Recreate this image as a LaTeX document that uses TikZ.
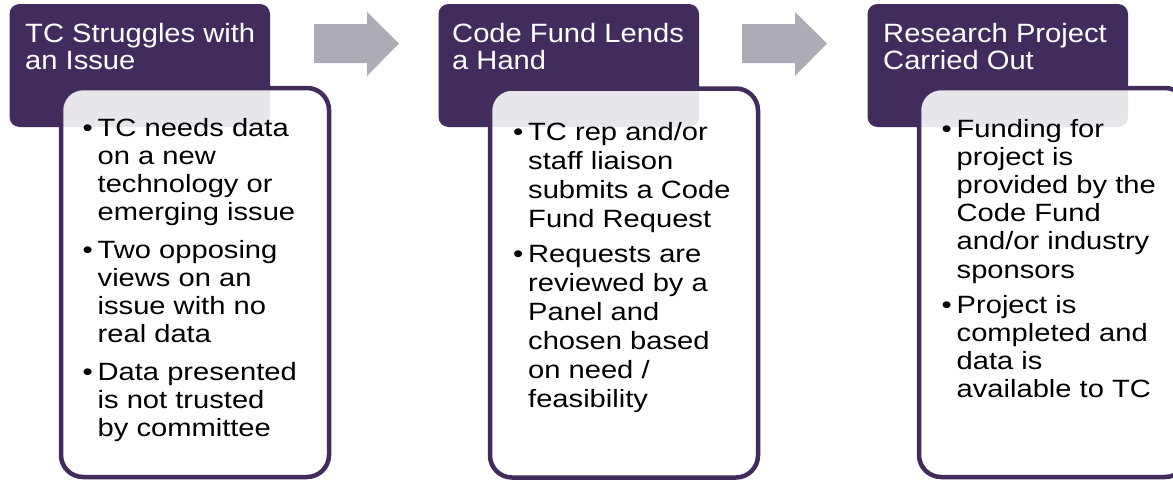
\documentclass[tikz,border=0pt]{standalone}
\usepackage{fontspec}
\setmainfont{Liberation Sans}
\newfontfamily\headfont[FakeStretch=1.10]{Liberation Sans}
\newfontfamily\bodyfont[FakeStretch=1.165]{Liberation Sans}
\definecolor{plum}{HTML}{422C5E}
\definecolor{arrowgray}{HTML}{ADABB4}
% bullet hung to the left of the text column
\newcommand\itm{\llap{•\hspace{5pt}}}
% grey block arrow between two stages, #1 = left end of the shaft
\newcommand\blockarrow[1]{%
  \fill[flow] (#1,24) -- ++(53,0) -- ++(0,-12) -- ++(32,31.5) -- ++(-32,32.5)
    -- ++(0,-13) -- ++(-53,0) -- cycle;}
\begin{document}
\begin{tikzpicture}[x=1pt,y=-1pt,
  header/.style={fill=plum, rounded corners=10pt, minimum width=260.5pt,
    minimum height=123pt, inner sep=0pt},
  card/.style={fill=white, fill opacity=0.88, draw=plum, line width=4.5pt,
    rounded corners=22pt, minimum width=268pt, minimum height=389pt, inner sep=0pt},
  headtext/.style={anchor=base west, inner sep=0pt, text=white,
    font=\headfont\fontsize{26.5}{29}\selectfont},
  bodytext/.style={anchor=base west, inner sep=0pt, text=black,
    font=\bodyfont\fontsize{25}{#1}\selectfont},
  flow/.style={fill=arrowgray}]
\useasboundingbox (0,0) rectangle (1173,482);
\clip (0,0) rectangle (1173,482);

% stage headers
\node[header] (h1) at (139.75,65.5) {};
\node[header] (h2) at (568.75,65.5) {};
\node[header] (h3) at (997.75,65.5) {};

% detail cards overlapping the headers
\node[card] (b1) at (195,282.5) {};
\node[card] (b2) at (624,283) {};
\node[card] (b3) at (1053,282.5) {};

% arrows between stages
\blockarrow{314}
\blockarrow{742}

% header titles
\node[headtext] (ht1) at (25,42.7) {\begin{tabular}[t]{@{}l@{}}TC Struggles with\\[-2pt]an Issue\end{tabular}};
\node[headtext] (ht2) at (452,42.7) {\begin{tabular}[t]{@{}l@{}}Code Fund Lends\\[-2pt]a Hand\end{tabular}};
\node[headtext] (ht3) at (883,42.7) {\begin{tabular}[t]{@{}l@{}}Research Project\\[-2pt]Carried Out\end{tabular}};

% card contents
\node[bodytext=28.3] (bt1) at (97.5,136) {\begin{tabular}[t]{@{}l@{}}
\itm TC needs data\\
on a new\\
technology or\\
emerging issue\\[8.8pt]
\itm Two opposing\\
views on an\\
issue with no\\
real data\\[8.8pt]
\itm Data presented\\
is not trusted\\
by committee
\end{tabular}};

\node[bodytext=29.1] (bt2) at (528,140) {\begin{tabular}[t]{@{}l@{}}
\itm TC rep and/or\\
staff liaison\\
submits a Code\\
Fund Request\\[6pt]
\itm Requests are\\
reviewed by a\\
Panel and\\
chosen based\\
on need /\\
feasibility
\end{tabular}};

\node[bodytext=28.2] (bt3) at (956.5,137) {\begin{tabular}[t]{@{}l@{}}
\itm Funding for\\
project is\\
provided by the\\
Code Fund\\
and/or industry\\
sponsors\\[6.8pt]
\itm Project is\\
completed and\\
data is\\
available to TC
\end{tabular}};
\end{tikzpicture}
\end{document}
